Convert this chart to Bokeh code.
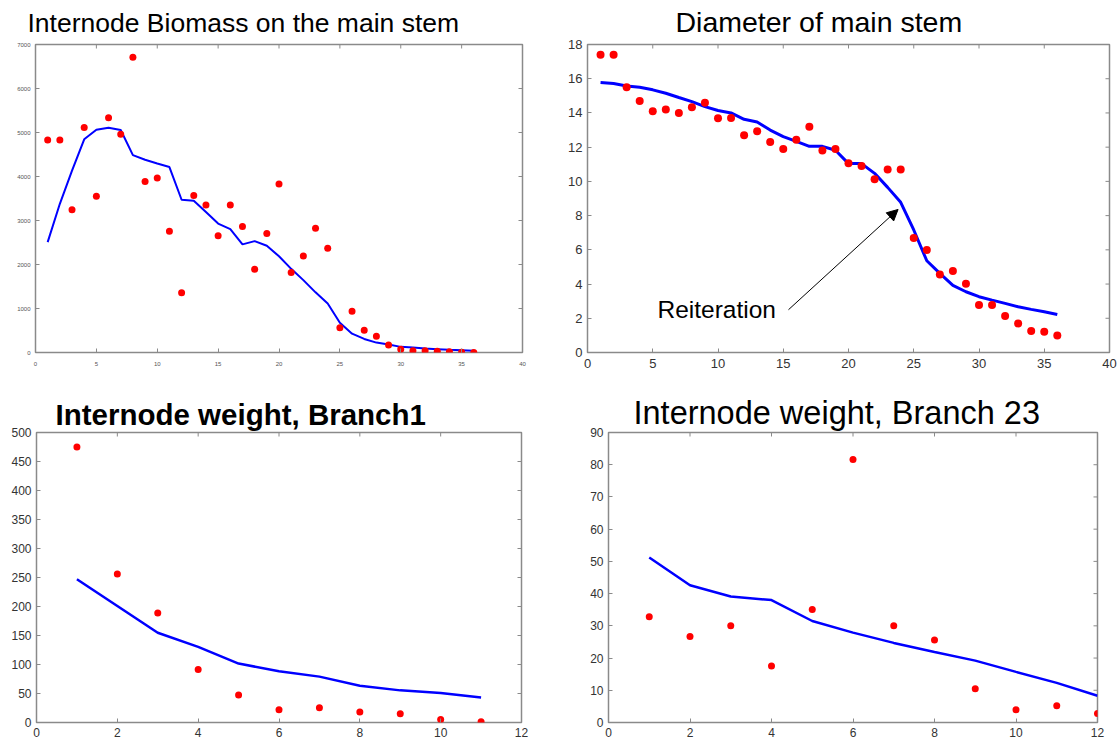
import math
from bokeh.plotting import figure
from bokeh.layouts import column, row
from bokeh.models import Range1d, LinearAxis, FixedTicker, Arrow, NormalHead, Label
from bokeh.embed import file_html
from bokeh.resources import INLINE

# ---------------- data ----------------
node_main = list(range(1, 37))
biomass_obs = [4830, 4830, 3245, 5116, 3553, 5334, 4958, 6709, 3884, 3967,
               2757, 1360, 3569, 3351, 2652, 3351, 2862, 1893, 2705, 3832,
               1818, 2194, 2825, 2367, 563, 939, 503, 368, 173, 75,
               38, 40, 30, 15, 8, 0]
biomass_sim = [2509, 3380, 4132, 4846, 5064, 5109, 5056, 4485, 4380, 4297,
               4215, 3471, 3448, 3193, 2930, 2802, 2457, 2532, 2427, 2186,
               1901, 1645, 1367, 1112, 676, 428, 308, 225, 180, 128,
               113, 90, 75, 60, 53, 38]
diam_obs = [17.4, 17.4, 15.5, 14.7, 14.1, 14.2, 14.0, 14.33, 14.6, 13.69,
            13.7, 12.7, 12.93, 12.3, 11.9, 12.44, 13.2, 11.8, 11.9, 11.06,
            10.9, 10.12, 10.69, 10.69, 6.69, 5.99, 4.56, 4.76, 4.02, 2.77,
            2.77, 2.13, 1.70, 1.25, 1.21, 0.99]
diam_sim = [15.78, 15.72, 15.58, 15.5, 15.35, 15.15, 14.9, 14.66, 14.37, 14.14,
            14.0, 13.63, 13.47, 13.0, 12.62, 12.34, 12.05, 12.05, 11.82, 11.04,
            11.04, 10.47, 9.65, 8.78, 7.16, 5.36, 4.62, 3.92, 3.55, 3.26,
            3.06, 2.87, 2.67, 2.52, 2.38, 2.22]
node_b1 = list(range(1, 12))
b1_obs = [475, 256, 189, 91.2, 47.3, 21.9, 25.4, 17.9, 15.0, 5.2, 1.2]
b1_sim = [247, 201, 154.7, 130.5, 101.6, 88.3, 79.1, 63.5, 55.4, 50.8, 43.3]
node_b23 = list(range(1, 13))
b23_obs = [32.8, 26.7, 30.0, 17.5, 35.1, 81.6, 30.0, 25.6, 10.5, 3.95, 5.2, 2.8]
b23_sim = [51.2, 42.6, 39.1, 38.0, 31.5, 27.9, 24.7, 21.9, 19.2, 15.7, 12.3, 8.3]

titles = ["Internode Biomass on the main stem", "Diameter of main stem",
          "Internode weight, Branch1", "Internode weight, Branch 23"]
xticks_main = [0, 5, 10, 15, 20, 25, 30, 35, 40]
yticks_biomass = [0, 1000, 2000, 3000, 4000, 5000, 6000, 7000]
yticks_diam = [0, 2, 4, 6, 8, 10, 12, 14, 16, 18]
xticks_branch = [0, 2, 4, 6, 8, 10, 12]
yticks_b1 = [0, 50, 100, 150, 200, 250, 300, 350, 400, 450, 500]
yticks_b23 = [0, 10, 20, 30, 40, 50, 60, 70, 80, 90]

annot_text = "Reiteration"
annot_pos = (5.36, 2.5)
arrow_from = (15.4, 2.5)
arrow_to = (23.8, 8.36)

FONT = "Liberation Sans"
FRAME = "#8a8a8a"
RED = "#ff0000"
BLUE = "#0000ff"


def make_panel(x, obs, sim, xr, yr, xticks, yticks, w, h, borders,
               tick_size, tick_color, x_standoff, dot, lw):
    bl, br, bt, bb = borders
    p = figure(width=w, height=h, output_backend="svg", toolbar_location=None,
               x_range=Range1d(*xr), y_range=Range1d(*yr),
               min_border_left=bl, min_border_right=br,
               min_border_top=bt, min_border_bottom=bb,
               x_axis_type=None, y_axis_type=None)
    p.grid.visible = False
    p.outline_line_color = FRAME
    p.outline_line_width = 1.5
    p.background_fill_color = "white"
    p.border_fill_color = "white"

    for side, ticks, so in (("below", xticks, x_standoff), ("left", yticks, 5)):
        ax = LinearAxis(ticker=FixedTicker(ticks=ticks))
        ax.axis_line_color = None
        ax.major_tick_in = 4
        ax.major_tick_out = 0
        ax.major_tick_line_color = FRAME
        ax.major_tick_line_width = 1
        ax.minor_tick_line_color = None
        ax.major_label_text_font = FONT
        ax.major_label_text_font_size = tick_size
        ax.major_label_text_color = tick_color
        ax.major_label_standoff = so
        p.add_layout(ax, side)

    # mirrored inward ticks on the top and right edges of the frame
    p.ray(x=xticks, y=[yr[1]] * len(xticks), length=4, length_units="screen",
          angle=-math.pi / 2, line_color=FRAME, line_width=1)
    p.ray(x=[xr[1]] * len(yticks), y=yticks, length=4, length_units="screen",
          angle=math.pi, line_color=FRAME, line_width=1)

    p.line(x, sim, line_color=BLUE, line_width=lw)
    p.scatter(x, obs, size=dot, fill_color=RED, line_color=None)
    return p


def set_title(p, text, size, style, offset, standoff, gap=0):
    p.title.text = text
    p.title.text_font = FONT
    p.title.text_font_size = size
    p.title.text_font_style = style
    p.title.text_color = "black"
    p.title.align = "left"
    p.title.vertical_align = "top"
    p.title.offset = offset
    p.title.standoff = standoff
    if gap:
        # empty tickless axis above the frame: lifts the title by `gap` px
        spacer = LinearAxis(ticker=FixedTicker(ticks=[]))
        spacer.axis_line_color = None
        spacer.major_tick_in = 0
        spacer.major_tick_out = gap
        spacer.major_tick_line_color = "white"
        spacer.minor_tick_in = 0
        spacer.minor_tick_out = 0
        spacer.minor_tick_line_color = "white"
        spacer.major_label_standoff = 0
        p.add_layout(spacer, "above")


p1 = make_panel(node_main, biomass_obs, biomass_sim, (0, 40), (0, 7000),
                xticks_main, yticks_biomass, 548, 388, (35, 26, 43, 35),
                "6px", "#555555", 9, 7, 2)
set_title(p1, titles[0], "26.5px", "normal", -8, 10)

p2 = make_panel(node_main, diam_obs, diam_sim, (0, 40), (0, 18),
                xticks_main, yticks_diam, 570, 388, (39, 9, 44, 36),
                "13px", "#333333", 6, 8, 3)
set_title(p2, titles[1], "28.5px", "normal", 88, 9)

p3 = make_panel(node_b1, b1_obs, b1_sim, (0, 12), (0, 500),
                xticks_branch, yticks_b1, 548, 354, (36, 27, 44, 20),
                "12px", "#333333", 5, 7, 2.5)
set_title(p3, titles[2], "29.5px", "bold", 19, 0, gap=9)

p4 = make_panel(node_b23, b23_obs, b23_sim, (0, 12), (0, 90),
                xticks_branch, yticks_b23, 570, 354, (60, 21, 44, 20),
                "12px", "#333333", 5, 7, 2.5)
set_title(p4, titles[3], "32.5px", "normal", 25, 0, gap=5)

p2.add_layout(Arrow(end=NormalHead(size=11, fill_color="black", line_color="black"),
                    x_start=arrow_from[0], y_start=arrow_from[1],
                    x_end=arrow_to[0], y_end=arrow_to[1],
                    line_color="black", line_width=1))
p2.add_layout(Label(x=annot_pos[0], y=annot_pos[1], text=annot_text,
                    text_font=FONT, text_font_size="24.5px",
                    text_color="black", text_baseline="alphabetic"))

layout = column(row(p1, p2), row(p3, p4))

with open("out.html", "w") as f:
    f.write(file_html(layout, INLINE))
